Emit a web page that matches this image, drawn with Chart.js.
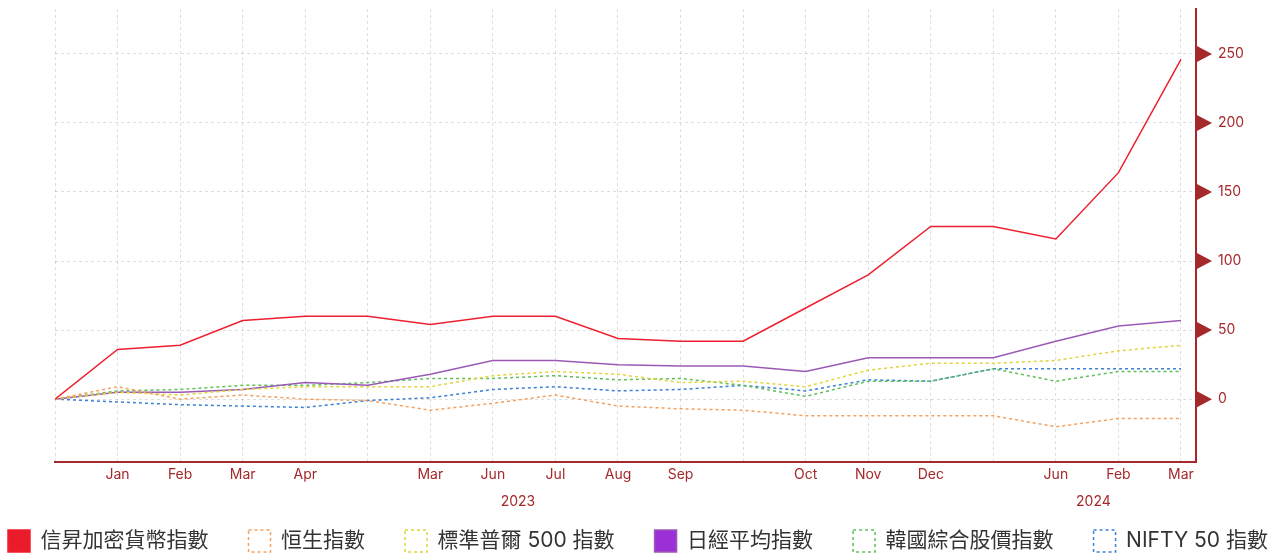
<!DOCTYPE html>
<html>
<head>
<meta charset="utf-8">
<script src="https://cdn.jsdelivr.net/npm/chart.js@4/dist/chart.umd.min.js"></script>
<style>
  html, body { margin: 0; padding: 0; background: #fff; }
  #wrap { width: 1280px; height: 553px; }
</style>
</head>
<body>
<div id="wrap"><canvas id="chart"></canvas></div>
<script>
// x axis labels as they appear on the source chart (some are blank)
const xLabels = ['', 'Jan', 'Feb', 'Mar', 'Apr', '', 'Mar', 'Jun', 'Jul', 'Aug', 'Sep', '', 'Oct', 'Nov', 'Dec', '', 'Jun', 'Feb', 'Mar'];
const yearLabels = ['2023', '2024'];
const yearPositions = [7.4, 16.6];
const yTicks = [0, 50, 100, 150, 200, 250];

const seriesNames = ['信昇加密貨幣指數', '恒生指數', '標準普爾 500 指數', '日經平均指數', '韓國綜合股價指數', 'NIFTY 50 指數'];
const cryptoIndex = [0, 36, 39, 57, 60, 60, 54, 60, 60, 44, 42, 42, 66, 90, 125, 125, 116, 164, 246];
const hangSeng    = [0, 9, 0, 3, 0, -1, -8, -3, 3, -5, -7, -8, -12, -12, -12, -12, -20, -14, -14];
const sp500       = [0, 5, 3, 7, 9, 9, 9, 17, 20, 18, 12, 13, 9, 21, 26, 26, 28, 35, 39];
const nikkei      = [0, 5, 5, 7, 12, 10, 18, 28, 28, 25, 24, 24, 20, 30, 30, 30, 42, 53, 57];
const kospi       = [0, 6, 7, 10, 10, 12, 15, 15, 17, 14, 15, 10, 2, 13, 13, 22, 13, 20, 20];
const nifty50     = [0, -2, -4, -5, -6, -1, 1, 7, 9, 6, 7, 10, 6, 14, 13, 22, 22, 22, 22];

const brown = '#a5282b';
const gridColor = 'rgba(0,0,0,0.13)';
const legendGap = 40;
const xMax = 18.24;

Chart.defaults.font.family = "Inter, 'Noto Sans CJK TC', sans-serif";

function toPoints(values) {
  return values.map((v, i) => ({ x: i, y: v }));
}

function solidLine(label, values, line, box) {
  return { label: label, data: toPoints(values), borderColor: line, backgroundColor: box,
           borderWidth: 1.5, pointRadius: 0, tension: 0, fill: false };
}

function dottedLine(label, values, color) {
  return { label: label, data: toPoints(values), borderColor: color, backgroundColor: 'rgba(255,255,255,0)',
           borderWidth: 1.5, borderDash: [3, 3], pointRadius: 0, tension: 0, fill: false };
}

// triangle tick marks on the right axis + legend spacing tweaks
const axisMarks = {
  id: 'axisMarks',
  beforeInit(chart) {
    const legend = chart.legend;
    if (!legend) return;
    const fit = legend.fit;
    legend.fit = function () {
      fit.call(this);
      this.height = 43;
    };
  },
  afterLayout(chart) {
    const legend = chart.legend;
    if (!legend) return;
    // one row, wide gaps, box tops at y=530
    legend.left = 8 - legendGap;
    legend.right = 1500;
    legend.top = 530 - legendGap;
  },
  afterDraw(chart) {
    const ctx = chart.ctx;
    const y = chart.scales.y;
    ctx.save();
    ctx.fillStyle = brown;
    y.ticks.forEach(t => {
      const py = y.getPixelForValue(t.value);
      ctx.beginPath();
      ctx.moveTo(y.left, py - 8.5);
      ctx.lineTo(y.left + 16, py);
      ctx.lineTo(y.left, py + 8.5);
      ctx.closePath();
      ctx.fill();
    });
    ctx.restore();
  }
};

new Chart(document.getElementById('chart'), {
  type: 'line',
  data: {
    datasets: [
      solidLine(seriesNames[0], cryptoIndex, '#ee2030', '#ec1b2c'),
      dottedLine(seriesNames[1], hangSeng, '#f5a05c'),
      dottedLine(seriesNames[2], sp500, '#e3d43a'),
      solidLine(seriesNames[3], nikkei, '#9b59b6', '#9b30d6'),
      dottedLine(seriesNames[4], kospi, '#5fbf58'),
      dottedLine(seriesNames[5], nifty50, '#3b82d6')
    ]
  },
  options: {
    responsive: true,
    maintainAspectRatio: false,
    animation: false,
    layout: { padding: { left: 55, top: 9, right: 0, bottom: 0 } },
    scales: {
      x: {
        type: 'linear', min: 0, max: xMax, weight: 0,
        afterBuildTicks: s => { s.ticks = xLabels.map((_, i) => ({ value: i })); },
        afterFit: s => { s.height = 21; },
        grid: { color: gridColor, drawTicks: false },
        border: { color: brown, width: 2, dash: [3, 3] },
        ticks: { autoSkip: false, maxRotation: 0, padding: 4, color: brown, font: { size: 14 },
                 callback: v => xLabels[v] }
      },
      x2: {
        type: 'linear', position: 'bottom', min: 0, max: xMax, weight: 1,
        afterBuildTicks: s => { s.ticks = yearPositions.map(v => ({ value: v })); },
        afterFit: s => { s.height = 27; },
        grid: { display: false, drawTicks: false },
        border: { display: false },
        ticks: { autoSkip: false, maxRotation: 0, padding: 10, color: brown, font: { size: 14 },
                 callback: (v, i) => yearLabels[i] }
      },
      y: {
        position: 'right', min: -45.5, max: 282.5,
        afterBuildTicks: s => { s.ticks = yTicks.map(v => ({ value: v })); },
        afterFit: s => { s.width = 84; },
        grid: { color: gridColor, drawTicks: true, tickLength: 22, tickColor: 'rgba(0,0,0,0)' },
        border: { color: brown, width: 2, dash: [3, 3] },
        ticks: { color: brown, padding: 0, font: { size: 14 } }
      }
    },
    plugins: {
      legend: {
        position: 'bottom',
        align: 'start',
        labels: { boxWidth: 22, boxHeight: 22, padding: legendGap, color: '#333', font: { size: 21 } }
      },
      tooltip: { enabled: false }
    }
  },
  plugins: [axisMarks]
});
</script>
</body>
</html>
